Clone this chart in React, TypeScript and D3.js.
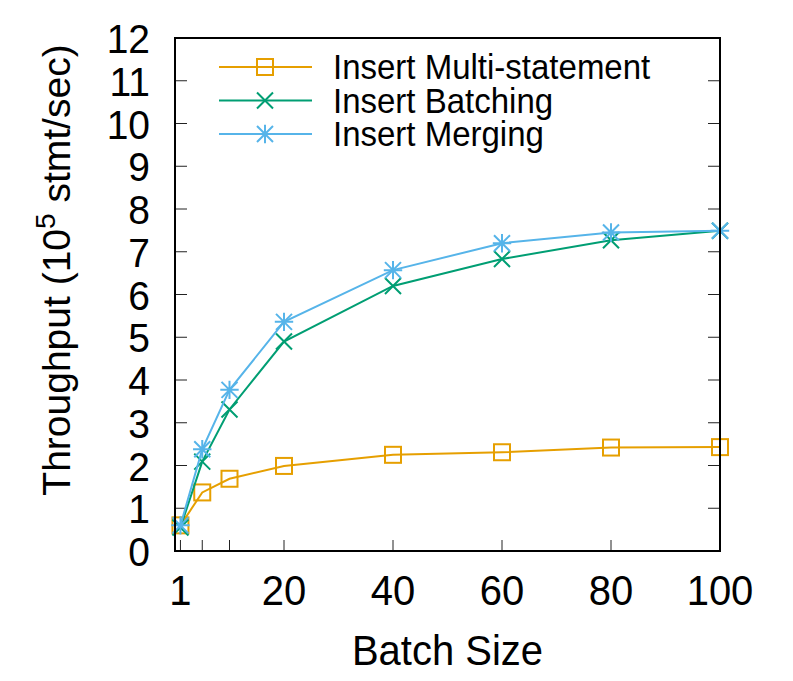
import React from "react";
import * as d3 from "d3";

const batchSizes = [1, 5, 10, 20, 40, 60, 80, 100];
const multiStatement = [0.6, 1.37, 1.69, 1.99, 2.25, 2.31, 2.42, 2.43];
const batching = [0.55, 2.09, 3.31, 4.9, 6.2, 6.83, 7.27, 7.49];
const merging = [0.6, 2.38, 3.77, 5.36, 6.57, 7.2, 7.45, 7.49];

const xTicks = [1, 5, 10, 20, 40, 60, 80, 100];
const xTickLabels = [1, 20, 40, 60, 80, 100];
const yTicks = d3.range(0, 13);

const series = [
  { name: "Insert Multi-statement", values: multiStatement, color: "#E69F00", marker: "square" },
  { name: "Insert Batching", values: batching, color: "#009E73", marker: "cross" },
  { name: "Insert Merging", values: merging, color: "#56B4E9", marker: "star" },
];

const width = 793;
const height = 681;
const margin = { top: 38, right: 73, bottom: 130, left: 175 };
const font = "'Liberation Sans', Arial, Helvetica, sans-serif";
const stretch = 1.06; // gnuplot glyphs are a bit taller than Liberation Sans

function Marker({ type, x, y, color }: { type: string; x: number; y: number; color: string }) {
  const s = 8;
  if (type === "square") {
    return <rect x={x - s} y={y - s} width={2 * s} height={2 * s} fill="none" stroke={color} strokeWidth={2} />;
  }
  if (type === "cross") {
    return (
      <path
        d={`M${x - s},${y - s}L${x + s},${y + s}M${x - s},${y + s}L${x + s},${y - s}`}
        stroke={color}
        strokeWidth={2}
        fill="none"
      />
    );
  }
  return (
    <path
      d={`M${x - s},${y - s}L${x + s},${y + s}M${x - s},${y + s}L${x + s},${y - s}M${x},${y - s * 1.15}L${x},${y + s * 1.15}M${x - s * 1.15},${y}L${x + s * 1.15},${y}`}
      stroke={color}
      strokeWidth={2}
      fill="none"
    />
  );
}

// text with slight vertical stretch, anchored at its baseline
function Label({ x, y, anchor, size, children }: { x: number; y: number; anchor?: string; size: number; children: React.ReactNode }) {
  return (
    <g transform={`translate(${x},${y}) scale(1,${stretch})`}>
      <text textAnchor={anchor || "start"} fontSize={size} fill="#000">
        {children}
      </text>
    </g>
  );
}

export default function App() {
  const innerW = width - margin.left - margin.right;
  const innerH = height - margin.top - margin.bottom;

  const x = d3.scaleLinear().domain([0, 100]).range([margin.left, margin.left + innerW]);
  const y = d3.scaleLinear().domain([0, 12]).range([margin.top + innerH, margin.top]);

  const line = d3
    .line<number>()
    .x((_, i) => x(batchSizes[i]))
    .y((d) => y(d));

  const left = margin.left;
  const right = margin.left + innerW;
  const top = margin.top;
  const bottom = margin.top + innerH;

  return (
    <svg
      width={width}
      height={height}
      style={{ position: "absolute", left: 0, top: 0, background: "#fff" }}
      fontFamily={font}
    >
      <rect width={width} height={height} fill="#fff" />

      {/* y ticks, both sides */}
      {yTicks.map((t) => (
        <g key={"y" + t}>
          <line x1={left} x2={left + 12} y1={y(t)} y2={y(t)} stroke="#222" strokeWidth={1} />
          <line x1={right} x2={right - 12} y1={y(t)} y2={y(t)} stroke="#222" strokeWidth={1} />
          <Label x={150} y={y(t) + 15} anchor="end" size={39}>
            {t}
          </Label>
        </g>
      ))}

      {/* x ticks */}
      {xTicks.map((t) => (
        <line key={"x" + t} x1={x(t)} x2={x(t)} y1={bottom} y2={bottom - 11} stroke="#222" strokeWidth={1} />
      ))}
      {xTickLabels.map((t) => (
        <Label key={"xl" + t} x={x(t)} y={605} anchor="middle" size={40}>
          {t}
        </Label>
      ))}

      {/* series */}
      {series.map((s) => (
        <g key={s.name}>
          <path d={line(s.values) || ""} fill="none" stroke={s.color} strokeWidth={2} />
          {s.values.map((v, i) => (
            <Marker key={i} type={s.marker} x={x(batchSizes[i])} y={y(v)} color={s.color} />
          ))}
        </g>
      ))}

      {/* frame */}
      <rect x={left} y={top} width={innerW} height={innerH} fill="none" stroke="#000" strokeWidth={2} />

      {/* legend */}
      {series.map((s, i) => {
        const ly = 67 + i * 33.5;
        return (
          <g key={"lg" + s.name}>
            <line x1={219} x2={312} y1={ly} y2={ly} stroke={s.color} strokeWidth={2} />
            <Marker type={s.marker} x={265} y={ly} color={s.color} />
            <Label x={333} y={ly + 12} size={33}>
              {s.name}
            </Label>
          </g>
        );
      })}

      {/* axis titles */}
      <Label x={(left + right) / 2} y={665} anchor="middle" size={40}>
        Batch Size
      </Label>
      <text
        transform={`translate(70, 270) rotate(-90)`}
        textAnchor="middle"
        fontSize={39}
        fill="#000"
      >
        Throughput (10
        <tspan dy={-15} fontSize={28}>
          5
        </tspan>
        <tspan dy={15}> stmt/sec)</tspan>
      </text>
    </svg>
  );
}
